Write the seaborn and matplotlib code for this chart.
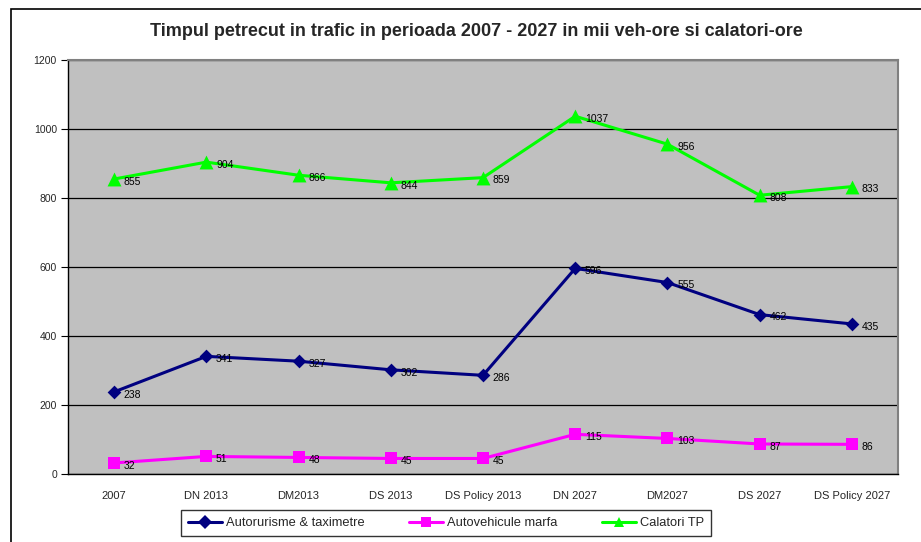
import matplotlib
matplotlib.use("Agg")
import matplotlib.pyplot as plt
import seaborn as sns
import pandas as pd
from matplotlib.patches import Rectangle
from matplotlib.lines import Line2D

categories = ["2007", "DN 2013", "DM2013", "DS 2013", "DS Policy 2013",
              "DN 2027", "DM2027", "DS 2027", "DS Policy 2027"]
autoturisme = [238, 341, 327, 302, 286, 596, 555, 462, 435]
autovehicule = [32, 51, 48, 45, 45, 115, 103, 87, 86]
calatori = [855, 904, 866, 844, 859, 1037, 956, 808, 833]
series_names = ["Autorurisme & taximetre", "Autovehicule marfa", "Calatori TP"]
colors = ["#000080", "#FF00FF", "#00FF00"]
markers = ["D", "s", "^"]
title = "Timpul petrecut in trafic in perioada 2007 - 2027 in mii veh-ore si calatori-ore"

sns.set_theme(style="white")
plt.rcParams["font.family"] = ["Liberation Sans", "DejaVu Sans"]

rows = []
for name, vals in zip(series_names, [autoturisme, autovehicule, calatori]):
    for i, v in enumerate(vals):
        rows.append({"idx": i, "cat": categories[i], "value": v, "series": name})
df = pd.DataFrame(rows)

fig = plt.figure(figsize=(9.21, 5.42), dpi=100)
W, H = 921, 542
ax = fig.add_axes([68 / W, 1 - 474 / H, (898 - 68) / W, (474 - 60) / H])
ax.set_facecolor("#C0C0C0")

# outer frame
fig.patches.append(Rectangle((11 / W, -0.05), 1.0, 1 - 9 / H + 0.05, transform=fig.transFigure,
                             fill=False, edgecolor="black", linewidth=1.2, zorder=0))

sns.lineplot(data=df, x="idx", y="value", hue="series",
             palette=dict(zip(series_names, colors)),
             ax=ax, legend=False, linewidth=2.2)

sizes = [7, 8.5, 10]
for vals, c, m, s in zip([autoturisme, autovehicule, calatori], colors, markers, sizes):
    sns.scatterplot(x=list(range(len(vals))), y=vals, color=c, marker=m, s=s ** 2,
                    linewidth=0, ax=ax, legend=False, zorder=3)
    for i, v in enumerate(vals):
        ax.annotate(str(v), (i, v), xytext=(7, -2), textcoords="offset points",
                    fontsize=7.5, color="black", va="center", ha="left", zorder=4)

ax.set_xlim(-0.5, len(categories) - 0.5)
ax.set_ylim(0, 1200)
ax.set_yticks(range(0, 1201, 200))
ax.set_yticklabels([str(t) for t in range(0, 1201, 200)], fontsize=7.5)
ax.yaxis.grid(True, color="black", linewidth=0.9)
ax.set_axisbelow(True)

ax.set_xticks([i - 0.5 for i in range(len(categories) + 1)])
ax.set_xticklabels([])
ax.set_xticks(range(len(categories)), minor=True)
ax.set_xticklabels(categories, minor=True, fontsize=8)
ax.tick_params(axis="x", which="major", length=5, width=0.8, color="black", direction="out")
ax.tick_params(axis="x", which="minor", length=0, pad=12)
ax.tick_params(axis="y", length=5, width=0.8, color="black", direction="out", left=True, pad=3)
ax.set_xlabel("")
ax.set_ylabel("")

for s in ["left", "bottom"]:
    ax.spines[s].set_color("black")
    ax.spines[s].set_linewidth(1)
for s in ["top", "right"]:
    ax.spines[s].set_color("#808080")
    ax.spines[s].set_linewidth(1.5)

fig.text(476 / W, 1 - 32 / H, title, ha="center", va="center", fontsize=13, fontweight="bold")

handles = [Line2D([0], [0], color=c, marker=m, markersize=7, markeredgewidth=0, linewidth=2.2)
           for c, m in zip(colors, markers)]
leg = fig.legend(handles, series_names, loc="center", bbox_to_anchor=(446 / W, 1 - 523 / H),
                 ncol=3, frameon=True, fontsize=9.3, handlelength=2.6, columnspacing=3.5,
                 handletextpad=0.3, borderpad=0.55, borderaxespad=0, fancybox=False)
leg.get_frame().set_edgecolor("black")
leg.get_frame().set_linewidth(1)

fig.savefig("out.png", dpi=100, facecolor="white")
